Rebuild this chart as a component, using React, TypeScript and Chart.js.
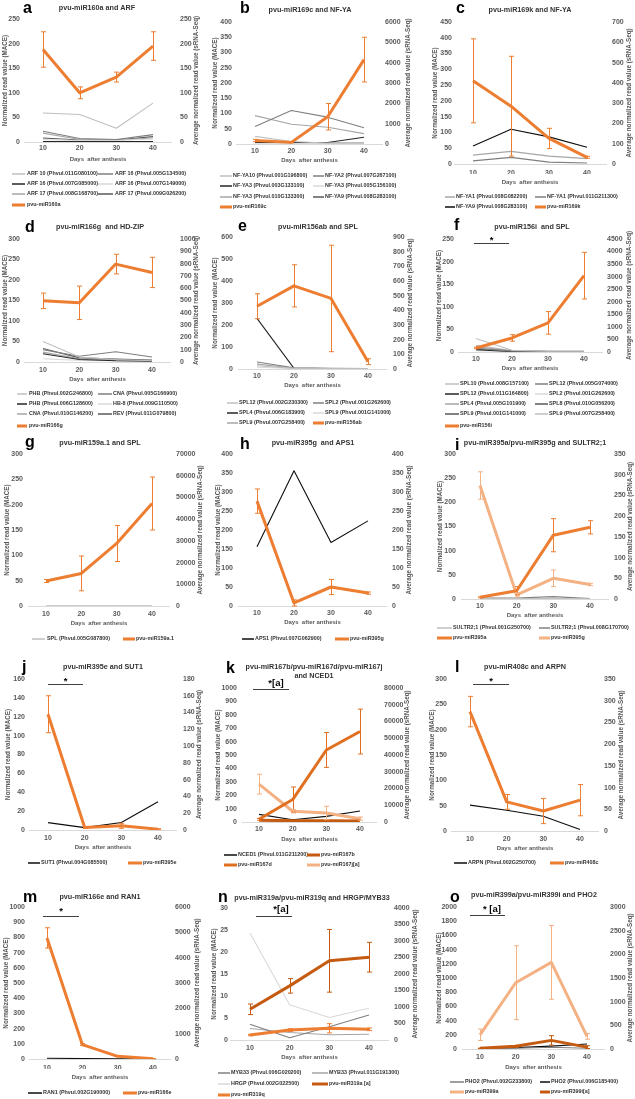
import React, { useEffect, useRef } from 'react';
import { Chart, registerables } from 'chart.js';

Chart.register(...registerables);

const FONT = '"Liberation Sans", Arial, Helvetica, sans-serif';
Chart.defaults.font.family = FONT;

// ---------------- data ----------------
const DAYS = ['10', '20', '30', '40'];

// a: pvu-miR160a and ARF
const a_axisL = [250, 50];
const a_axisR = [250, 50];
const a_ARF10_011G080100 = [59, 56, 28, 79];
const a_ARF16_005G134500 = [22, 7, 5, 15];
const a_ARF16_007G085000 = [1, 1, 1, 1];
const a_ARF16_007G149000 = [5, 3, 3, 6];
const a_ARF17_008G168700 = [18, 5, 4, 8];
const a_ARF17_009G026200 = [8, 4, 4, 11];
const a_miR160a = [188, 100, 132, 195];
const a_miR160a_err = [36, 12, 10, 29];

// b: pvu-miR169c and NF-YA
const b_axisL = [400, 50];
const b_axisR = [6000, 1000];
const b_NFYA10_001G196800 = [25, 8, 3, 3];
const b_NFYA2_007G267100 = [57, 110, 88, 53];
const b_NFYA3_003G133100 = [5, 5, 5, 22];
const b_NFYA3_005G156100 = [3, 2, 2, 2];
const b_NFYA3_010G133300 = [93, 65, 55, 34];
const b_NFYA9_008G283100 = [10, 4, 3, 3];
const b_miR169c = [170, 80, 1340, 4150];
const b_miR169c_err = [60, 20, 650, 1100];

// c: pvu-miR169k and NF-YA
const c_axisL = [450, 50];
const c_axisR = [700, 100];
const c_NFYA1_008G082200 = [28, 40, 25, 17];
const c_NFYA1_011G211300 = [10, 21, 6, 3];
const c_NFYA9_008G283100 = [57, 110, 86, 53];
const c_miR169k = [410, 285, 126, 33];
const c_miR169k_err = [207, 246, 50, 5];

// d: pvu-miR166g and HD-ZIP
const d_axisL = [300, 50];
const d_axisR = [1000, 100];
const d_PHB_002G246800 = [50, 12, 6, 3];
const d_CNA_005G166900 = [30, 14, 25, 12];
const d_PHB_006G128600 = [20, 6, 3, 2];
const d_HB8_009G110500 = [8, 4, 3, 2];
const d_CNA_010G146200 = [24, 8, 5, 4];
const d_REV_011G079800 = [33, 10, 7, 5];
const d_miR166g = [497, 481, 796, 728];
const d_miR166g_err = [63, 136, 80, 123];

// e: pvu-miR156ab and SPL
const e_axisL = [600, 100];
const e_axisR = [900, 100];
const e_SPL12_002G230300 = [15, 3, 2, 2];
const e_SPL2_001G262600 = [32, 6, 3, 2];
const e_SPL4_006G183900 = [230, 3, 2, 2];
const e_SPL9_001G141000 = [8, 2, 2, 2];
const e_SPL9_007G258400 = [22, 4, 2, 2];
const e_miR156ab = [428, 567, 481, 50];
const e_miR156ab_err = [85, 144, 363, 20];

// f: pvu-miR156i and SPL
const f_axisL = [250, 50];
const f_axisR = [4500, 500];
const f_SPL10_008G157100 = [30, 4, 2, 2];
const f_SPL12_005G074000 = [8, 2, 1, 1];
const f_SPL12_011G164800 = [5, 1, 1, 1];
const f_SPL2_001G262600 = [3, 1, 1, 1];
const f_SPL4_005G101900 = [12, 2, 1, 1];
const f_SPL8_010G056200 = [6, 2, 1, 1];
const f_SPL9_001G141000 = [7, 2, 1, 1];
const f_SPL9_007G258400 = [15, 3, 2, 2];
const f_miR156i = [160, 560, 1160, 3040];
const f_miR156i_err = [30, 130, 450, 930];

// g: pvu-miR159a.1 and SPL
const g_axisL = [300, 50];
const g_axisR = [70000, 10000];
const g_SPL_005G087800 = [0.5, 0.5, 0.5, 0.5];
const g_miR159a1 = [11500, 15000, 28800, 47200];
const g_miR159a1_err = [700, 8000, 8300, 12200];

// h: pvu-miR395g and APS1
const h_axisL = [400, 50];
const h_axisR = [400, 50];
const h_APS1_007G062900 = [156, 356, 167, 224];
const h_miR395g = [276, 8, 50, 34];
const h_miR395g_err = [32, 8, 20, 3];

// i: pvu-miR395a/pvu-miR395g and SULTR2;1
const i_axisL = [300, 50];
const i_axisR = [350, 50];
const i_SULTR21_001G250700 = [1, 1, 1, 0.5];
const i_SULTR21_008G170700 = [2, 2, 5, 1];
const i_miR395a = [4, 20, 154, 173];
const i_miR395a_err = [1, 10, 40, 16];
const i_miR395g = [274, 10, 50, 35];
const i_miR395g_err = [33, 5, 20, 3];

// j: pvu-miR395e and SUT1
const j_axisL = [160, 20];
const j_axisR = [180, 20];
const j_SUT1_004G085500 = [7.8, 2.5, 8, 30];
const j_miR395e = [138, 3, 5, 1];
const j_miR395e_err = [22, 1, 3, 0.5];

// k: pvu-miR167b/d/j and NCED1
const k_axisL = [1000, 100];
const k_axisR = [80000, 10000];
const k_NCED1_011G211200 = [57, 17, 42, 82];
const k_miR167b = [1000, 800, 700, 600];
const k_miR167d = [1600, 13400, 43000, 54000];
const k_miR167d_err = [500, 7500, 10400, 13400];
const k_miR167j = [22600, 6400, 5400, 2000];
const k_miR167j_err = [5900, 1000, 4000, 1000];

// l: pvu-miR408c and ARPN
const l_axisL = [300, 50];
const l_axisR = [350, 50];
const l_ARPN_002G250700 = [51, 41, 29, 3];
const l_miR408c = [275, 67, 46, 71];
const l_miR408c_err = [35, 17, 29, 36];

// m: pvu-miR166e and RAN1
const m_axisL = [1000, 100];
const m_axisR = [6000, 1000];
const m_RAN1_002G190000 = [5, 3, 2, 1];
const m_miR166e = [4780, 570, 105, 13];
const m_miR166e_err = [400, 40, 10, 2];

// n: pvu-miR319a/pvu-miR319q and HRGP/MYB33
const n_axisL = [30, 5];
const n_axisR = [4000, 500];
const n_MYB33_006G020200 = [3.6, 0.5, 3.0, 5.7];
const n_MYB33_011G191300 = [2.6, 1.7, 1.2, 1.3];
const n_HRGP_002G022500 = [24.3, 8, 5.1, 7.2];
const n_miR319a = [930, 1640, 2400, 2510];
const n_miR319a_err = [160, 220, 950, 450];
const n_miR319q = [150, 300, 354, 324];
const n_miR319q_err = [20, 40, 140, 40];

// o: pvu-miR399a/pvu-miR399i and PHO2
const o_axisL = [2000, 200];
const o_axisR = [3000, 500];
const o_PHO2_002G233800 = [2, 10, 25, 10];
const o_PHO2_006G185400 = [3, 20, 40, 70];
const o_miR399a = [300, 1400, 1830, 266];
const o_miR399a_err = [120, 780, 780, 60];
const o_miR399i = [14, 56, 182, 40];
const o_miR399i_err = [5, 20, 100, 30];

// ---------------- styles ----------------
const C = {
  or: '#ED7D31', ord: '#C55A11', orm: '#E0701F', orl: '#F4B183',
  k: '#0D0D0D', g1: '#262626', g2: '#595959', g3: '#7F7F7F', g4: '#A6A6A6', g5: '#BFBFBF', g6: '#D9D9D9',
};

type S = { label: string; data: number[]; color: string; axis: 'L' | 'R'; err?: number[] };
const gs = (label: string, data: number[], color: string): S => ({ label, data, color, axis: 'L' });
const ms = (label: string, data: number[], err: number[], color: string = C.or): S => ({ label, data, err, color, axis: 'R' });

const PANELS: any[] = [
  {
    id: 'a', letter: 'a', letterX: 23, letterY: 12.5, title: ['pvu-miR160a and ARF'], titleX: 97, titleY: [8],
    box: [0, 0, 210, 217], c10: 43, c40: 153, T: 19, B: 142, lTick: 20, rTick: 180, lTitle: 5, rTitle: 196, xTick: 148, xTitle: 159,
    axL: a_axisL, axR: a_axisR, legRows: [174, 184, 194, 205], legCols: [[12, 25, 27], [98, 113, 115]],
    series: [
      gs('ARF 10 (Phvul.011G080100)', a_ARF10_011G080100, C.g5),
      gs('ARF 16 (Phvul.005G134500)', a_ARF16_005G134500, C.g3),
      gs('ARF 16 (Phvul.007G085000)', a_ARF16_007G085000, C.g1),
      gs('ARF 16 (Phvul.007G149000)', a_ARF16_007G149000, C.g6),
      gs('ARF 17 (Phvul.008G168700)', a_ARF17_008G168700, C.g4),
      gs('ARF 17 (Phvul.009G026200)', a_ARF17_009G026200, C.g2),
      ms('pvu-miR160a', a_miR160a, a_miR160a_err),
    ],
  },
  {
    id: 'b', letter: 'b', letterX: 240, letterY: 13, title: ['pvu-miR169c and NF-YA'], titleX: 310, titleY: [10],
    box: [210, 0, 218, 217], c10: 255, c40: 364, T: 22, B: 144, lTick: 232, rTick: 385, lTitle: 215, rTitle: 408, xTick: 151, xTitle: 160,
    axL: b_axisL, axR: b_axisR, legRows: [176, 186, 197, 207], legCols: [[220, 232, 233], [313, 324, 325]],
    series: [
      gs('NF-YA10 (Phvul.001G196800)', b_NFYA10_001G196800, C.g5),
      gs('NF-YA2 (Phvul.007G267100)', b_NFYA2_007G267100, C.g3),
      gs('NF-YA3 (Phvul.003G133100)', b_NFYA3_003G133100, C.g1),
      gs('NF-YA3 (Phvul.005G156100)', b_NFYA3_005G156100, C.g6),
      gs('NF-YA3 (Phvul.010G133300)', b_NFYA3_010G133300, C.g4),
      gs('NF-YA9 (Phvul.008G283100)', b_NFYA9_008G283100, C.g2),
      ms('pvu-miR169c', b_miR169c, b_miR169c_err),
    ],
  },
  {
    id: 'c', letter: 'c', letterX: 456, letterY: 12.7, title: ['pvu-miR169k and NF-YA'], titleX: 530, titleY: [10],
    box: [428, 0, 207, 217], c10: 473, c40: 587, T: 22, B: 164, lTick: 452, rTick: 612, lTitle: 435, rTitle: 629, xTick: 173, xTitle: 182,
    axL: c_axisL, axR: c_axisR, legRows: [197, 207], legCols: [[445, 455, 456], [535, 546, 547]],
    series: [
      gs('NF-YA1 (Phvul.008G082200)', c_NFYA1_008G082200, C.g4),
      gs('NF-YA1 (Phvul.011G211300)', c_NFYA1_011G211300, C.g3),
      gs('NF-YA9 (Phvul.008G283100)', c_NFYA9_008G283100, C.k),
      ms('pvu-miR169k', c_miR169k, c_miR169k_err),
    ],
  },
  {
    id: 'd', letter: 'd', letterX: 25, letterY: 231.5, title: ['pvu-miR166g  and HD-ZIP'], titleX: 100, titleY: [227],
    box: [0, 217, 210, 217], c10: 43, c40: 152, T: 239, B: 362, lTick: 20, rTick: 180, lTitle: 5, rTitle: 196, xTick: 370, xTitle: 379,
    axL: d_axisL, axR: d_axisR, legRows: [394, 404, 414, 426], legCols: [[17, 27, 29], [98, 112, 113]],
    series: [
      gs('PHB (Phvul.002G246800)', d_PHB_002G246800, C.g5),
      gs('CNA (Phvul.005G166900)', d_CNA_005G166900, C.g3),
      gs('PHB (Phvul.006G128600)', d_PHB_006G128600, C.g1),
      gs('HB-8 (Phvul.009G110500)', d_HB8_009G110500, C.g6),
      gs('CNA (Phvul.010G146200)', d_CNA_010G146200, C.g4),
      gs('REV (Phvul.011G079800)', d_REV_011G079800, C.g2),
      ms('pvu-miR166g', d_miR166g, d_miR166g_err),
    ],
  },
  {
    id: 'e', letter: 'e', letterX: 238, letterY: 230.5, title: ['pvu-miR156ab and SPL'], titleX: 318, titleY: [227],
    box: [210, 217, 218, 217], c10: 257, c40: 368, T: 237, B: 369, lTick: 233, rTick: 393, lTitle: 215, rTitle: 410, xTick: 376, xTitle: 385,
    axL: e_axisL, axR: e_axisR, legRows: [403, 413, 423], legCols: [[227, 238, 239], [313, 324, 325]],
    series: [
      gs('SPL12 (Phvul.002G230300)', e_SPL12_002G230300, C.g5),
      gs('SPL2 (Phvul.001G262600)', e_SPL2_001G262600, C.g3),
      gs('SPL4 (Phvul.006G183900)', e_SPL4_006G183900, C.g1),
      gs('SPL9 (Phvul.001G141000)', e_SPL9_001G141000, C.g6),
      gs('SPL9 (Phvul.007G258400)', e_SPL9_007G258400, C.g4),
      ms('pvu-miR156ab', e_miR156ab, e_miR156ab_err),
    ],
  },
  {
    id: 'f', letter: 'f', letterX: 454, letterY: 230, title: ['pvu-miR156i  and SPL'], titleX: 532, titleY: [227],
    box: [428, 217, 207, 217], c10: 476, c40: 584, T: 239, B: 352, lTick: 454, rTick: 607, lTitle: 439, rTitle: 629, xTick: 359, xTitle: 368,
    sig: { text: '*', x1: 474, x2: 509, lineY: 243, baseY: 242.5, x: 491.5 },
    axL: f_axisL, axR: f_axisR, legRows: [384, 394, 404, 414, 426], legCols: [[445, 459, 460], [535, 548, 549]],
    series: [
      gs('SPL10 (Phvul.008G157100)', f_SPL10_008G157100, C.g5),
      gs('SPL12 (Phvul.005G074000)', f_SPL12_005G074000, C.g3),
      gs('SPL12 (Phvul.011G164800)', f_SPL12_011G164800, C.g1),
      gs('SPL2 (Phvul.001G262600)', f_SPL2_001G262600, C.g6),
      gs('SPL4 (Phvul.005G101900)', f_SPL4_005G101900, C.g4),
      gs('SPL8 (Phvul.010G056200)', f_SPL8_010G056200, C.g2),
      gs('SPL9 (Phvul.001G141000)', f_SPL9_001G141000, C.g2),
      gs('SPL9 (Phvul.007G258400)', f_SPL9_007G258400, C.g5),
      ms('pvu-miR156i', f_miR156i, f_miR156i_err),
    ],
  },
  {
    id: 'g', letter: 'g', letterX: 25, letterY: 447, title: ['pvu-miR159a.1 and SPL'], titleX: 100, titleY: [443],
    box: [0, 434, 210, 218], c10: 46, c40: 152, T: 454, B: 606, lTick: 23, rTick: 176, lTitle: 7, rTitle: 200, xTick: 614, xTitle: 623,
    axL: g_axisL, axR: g_axisR, legRows: [639], legCols: [[32, 45, 47], [123, 135, 136]],
    series: [
      gs('SPL (Phvul.005G087800)', g_SPL_005G087800, C.g5),
      ms('pvu-miR159a.1', g_miR159a1, g_miR159a1_err),
    ],
  },
  {
    id: 'h', letter: 'h', letterX: 240, letterY: 449, title: ['pvu-miR395g  and APS1'], titleX: 313, titleY: [443],
    box: [210, 434, 218, 218], c10: 257, c40: 368, T: 454, B: 606, lTick: 233, rTick: 392, lTitle: 218, rTitle: 409, xTick: 613, xTitle: 622,
    axL: h_axisL, axR: h_axisR, legRows: [639], legCols: [[242, 254, 255], [335, 349, 350]],
    series: [
      gs('APS1 (Phvul.007G062900)', h_APS1_007G062900, C.k),
      ms('pvu-miR395g', h_miR395g, h_miR395g_err),
    ],
  },
  {
    id: 'i', letter: 'i', letterX: 455, letterY: 450, title: ['pvu-miR395a/pvu-miR395g and SULTR2;1'], titleX: 535, titleY: [443],
    box: [428, 434, 207, 218], c10: 480, c40: 590, T: 454, B: 599, lTick: 456, rTick: 614, lTitle: 440, rTitle: 630, xTick: 606, xTitle: 615,
    axL: i_axisL, axR: i_axisR, legRows: [628, 638], legCols: [[437, 452, 453], [539, 550, 551]],
    series: [
      gs('SULTR2;1 (Phvul.001G250700)', i_SULTR21_001G250700, C.g5),
      gs('SULTR2;1 (Phvul.008G170700)', i_SULTR21_008G170700, C.g3),
      ms('pvu-miR395a', i_miR395a, i_miR395a_err, C.or),
      ms('pvu-miR395g', i_miR395g, i_miR395g_err, C.orl),
    ],
  },
  {
    id: 'j', letter: 'j', letterX: 22, letterY: 672, title: ['pvu-miR395e and SUT1'], titleX: 103, titleY: [667],
    box: [0, 652, 210, 223], c10: 48, c40: 158, T: 679, B: 830, lTick: 25, rTick: 183, lTitle: 8, rTitle: 199, xTick: 838, xTitle: 847,
    sig: { text: '*', x1: 48, x2: 83, lineY: 684, baseY: 683.5, x: 65.5 },
    axL: j_axisL, axR: j_axisR, legRows: [863], legCols: [[28, 40, 41], [128, 142, 143]],
    series: [
      gs('SUT1 (Phvul.004G085500)', j_SUT1_004G085500, C.k),
      ms('pvu-miR395e', j_miR395e, j_miR395e_err),
    ],
  },
  {
    id: 'k', letter: 'k', letterX: 226, letterY: 672.5, title: ['pvu-miR167b/pvu-miR167d/pvu-miR167j', 'and NCED1'], titleX: 314, titleY: [667, 676],
    box: [210, 652, 218, 223], c10: 259, c40: 360, T: 688, B: 822, lTick: 237, rTick: 384, lTitle: 218, rTitle: 407, xTick: 829, xTitle: 839,
    sig: { text: '*[a]', x1: 253, x2: 289, lineY: 689, baseY: 686, x: 276 },
    axL: k_axisL, axR: k_axisR, legRows: [855, 865], legCols: [[224, 237, 238], [307, 320, 321]],
    series: [
      gs('NCED1 (Phvul.011G211200)', k_NCED1_011G211200, C.k),
      ms('pvu-miR167b', k_miR167b, null as any, C.ord),
      ms('pvu-miR167d', k_miR167d, k_miR167d_err, C.orm),
      ms('pvu-miR167j[a]', k_miR167j, k_miR167j_err, C.orl),
    ],
  },
  {
    id: 'l', letter: 'l', letterX: 455, letterY: 671.5, title: ['pvu-miR408c and ARPN'], titleX: 525, titleY: [667],
    box: [428, 652, 207, 223], c10: 470, c40: 580, T: 679, B: 831, lTick: 447, rTick: 604, lTitle: 432, rTitle: 621, xTick: 839, xTitle: 848,
    sig: { text: '*', x1: 473, x2: 509, lineY: 684, baseY: 683.5, x: 491 },
    axL: l_axisL, axR: l_axisR, legRows: [863], legCols: [[454, 467, 468], [550, 564, 565]],
    series: [
      gs('ARPN (Phvul.002G250700)', l_ARPN_002G250700, C.k),
      ms('pvu-miR408c', l_miR408c, l_miR408c_err),
    ],
  },
  {
    id: 'm', letter: 'm', letterX: 23, letterY: 901.5, title: ['pvu-miR166e and RAN1'], titleX: 100, titleY: [897],
    box: [0, 875, 210, 224], c10: 47, c40: 153, T: 907, B: 1059, lTick: 25, rTick: 175, lTitle: 6, rTitle: 197, xTick: 1068, xTitle: 1077,
    sig: { text: '*', x1: 43, x2: 79, lineY: 916, baseY: 914, x: 61 },
    axL: m_axisL, axR: m_axisR, legRows: [1093], legCols: [[28, 42, 43], [123, 137, 138]],
    series: [
      gs('RAN1 (Phvul.002G190000)', m_RAN1_002G190000, C.k),
      ms('pvu-miR166e', m_miR166e, m_miR166e_err),
    ],
  },
  {
    id: 'n', letter: 'n', letterX: 218, letterY: 901.5, title: ['pvu-miR319a/pvu-miR319q and HRGP/MYB33'], titleX: 312, titleY: [898],
    box: [210, 875, 218, 224], c10: 250, c40: 369, T: 908, B: 1040, lTick: 228, rTick: 394, lTitle: 214, rTitle: 415, xTick: 1048, xTitle: 1057,
    sig: { text: '*[a]', x1: 256, x2: 292, lineY: 916, baseY: 912, x: 281 },
    axL: n_axisL, axR: n_axisR, legRows: [1073, 1084, 1095], legCols: [[218, 230, 231], [312, 328, 329]],
    series: [
      gs('MYB33 (Phvul.006G020200)', n_MYB33_006G020200, C.g3),
      gs('MYB33 (Phvul.011G191300)', n_MYB33_011G191300, C.g4),
      gs('HRGP (Phvul.002G022500)', n_HRGP_002G022500, C.g6),
      ms('pvu-miR319a [a]', n_miR319a, n_miR319a_err, C.ord),
      ms('pvu-miR319q', n_miR319q, n_miR319q_err, C.or),
    ],
  },
  {
    id: 'o', letter: 'o', letterX: 450, letterY: 901.5, title: ['pvu-miR399a/pvu-miR399i and PHO2'], titleX: 534, titleY: [895],
    box: [428, 875, 207, 224], c10: 480, c40: 587, T: 907, B: 1049, lTick: 457, rTick: 610, lTitle: 439, rTitle: 630, xTick: 1057, xTitle: 1067,
    sig: { text: '* [a]', x1: 470, x2: 505, lineY: 915, baseY: 912, x: 492 },
    axL: o_axisL, axR: o_axisR, legRows: [1082, 1092], legCols: [[450, 464, 465], [540, 550, 551]],
    series: [
      gs('PHO2 (Phvul.002G233800)', o_PHO2_002G233800, C.g3),
      gs('PHO2 (Phvul.006G185400)', o_PHO2_006G185400, C.k),
      ms('pvu-miR399a', o_miR399a, o_miR399a_err, C.orl),
      ms('pvu-miR399i[a]', o_miR399i, o_miR399i_err, C.ord),
    ],
  },
];

function makeDecor(p: any, L: number, R: number) {
  const [bx, by] = p.box;
  return {
    id: 'decor_' + p.id,
    afterDatasetsDraw(chart: any) {
      const ctx = chart.ctx;
      const xs = chart.scales.x;
      p.series.forEach((sr: S, i: number) => {
        if (!sr.err) return;
        const ys = chart.scales[sr.axis === 'L' ? 'yL' : 'yR'];
        ctx.save();
        ctx.strokeStyle = sr.color;
        ctx.lineWidth = 1;
        sr.err.forEach((e: number, j: number) => {
          const v = sr.data[j];
          const x = Math.round(xs.getPixelForValue(j)) + 0.5;
          const y1 = ys.getPixelForValue(v + e);
          const y2 = ys.getPixelForValue(Math.max(v - e, 0));
          ctx.beginPath();
          ctx.moveTo(x, y1); ctx.lineTo(x, y2);
          ctx.moveTo(x - 2.5, y1); ctx.lineTo(x + 2.5, y1);
          ctx.moveTo(x - 2.5, y2); ctx.lineTo(x + 2.5, y2);
          ctx.stroke();
        });
        ctx.restore();
      });
    },
    afterDraw(chart: any) {
      const ctx = chart.ctx;
      ctx.save();
      // panel letter
      ctx.fillStyle = '#000';
      ctx.font = `bold 16px ${FONT}`;
      ctx.textAlign = 'left';
      ctx.textBaseline = 'alphabetic';
      ctx.fillText(p.letter, p.letterX - bx, p.letterY - by);
      // title
      ctx.fillStyle = '#333';
      ctx.font = `bold 7.2px ${FONT}`;
      ctx.textAlign = 'center';
      ctx.textBaseline = 'middle';
      p.title.forEach((t: string, i: number) => ctx.fillText(t, p.titleX - bx, p.titleY[i] - by));
      // axis titles
      ctx.fillStyle = '#595959';
      ctx.font = `bold 6.3px ${FONT}`;
      const cy = (p.T + p.B) / 2 - by;
      const axT: [number, string][] = [
        [p.lTitle, 'Normalized read value (MACE)'],
        [p.rTitle, 'Average normalized read value (sRNA-Seq)'],
      ];
      axT.forEach(([x, t]) => {
        ctx.save();
        ctx.translate(x - bx, cy);
        ctx.rotate(-Math.PI / 2);
        ctx.fillText(t, 0, 0);
        ctx.restore();
      });
      ctx.font = `bold 6px ${FONT}`;
      ctx.fillText('Days  after anthesis', (L + R) / 2 - bx, p.xTitle - by);
      // significance
      if (p.sig) {
        const s = p.sig;
        ctx.strokeStyle = '#404040';
        ctx.lineWidth = 1;
        ctx.beginPath();
        ctx.moveTo(s.x1 - bx, Math.round(s.lineY - by) + 0.5);
        ctx.lineTo(s.x2 - bx, Math.round(s.lineY - by) + 0.5);
        ctx.stroke();
        ctx.fillStyle = '#000';
        ctx.font = `bold 9.5px ${FONT}`;
        ctx.textAlign = 'center';
        ctx.textBaseline = 'alphabetic';
        ctx.fillText(s.text, s.x - bx, s.baseY - by);
      }
      // legend
      ctx.font = `bold 5.4px ${FONT}`;
      ctx.textAlign = 'left';
      ctx.textBaseline = 'middle';
      p.series.forEach((sr: S, i: number) => {
        const row = Math.floor(i / 2);
        const col = p.legCols[i % 2];
        const y = p.legRows[row] - by;
        ctx.strokeStyle = sr.color;
        ctx.lineWidth = sr.axis === 'R' ? 3 : 1.5;
        ctx.beginPath();
        ctx.moveTo(col[0] - bx, y);
        ctx.lineTo(col[1] - bx, y);
        ctx.stroke();
        ctx.fillStyle = '#333';
        ctx.fillText(sr.label, col[2] - bx, y);
      });
      ctx.restore();
    },
  };
}

function Panel({ p }: { p: any }) {
  const ref = useRef<HTMLCanvasElement>(null);
  const [bx, by, bw, bh] = p.box;
  useEffect(() => {
    const s = (p.c40 - p.c10) / 3;
    const L = p.c10 - s / 2;
    const R = p.c40 + s / 2;
    const XH = 10;
    const tickFont = { family: FONT, size: 7, weight: 'bold' as const };
    const chart = new Chart(ref.current as HTMLCanvasElement, {
      type: 'line',
      data: {
        labels: DAYS,
        datasets: p.series.map((sr: S) => ({
          label: sr.label,
          data: sr.data,
          borderColor: sr.color,
          backgroundColor: sr.color,
          borderWidth: sr.axis === 'R' ? 3 : 1.1,
          pointRadius: 0,
          pointHoverRadius: 0,
          tension: 0,
          fill: false,
          borderJoinStyle: 'round',
          yAxisID: sr.axis === 'L' ? 'yL' : 'yR',
          order: sr.axis === 'R' ? 0 : 1,
        })),
      },
      options: {
        responsive: false,
        animation: false,
        devicePixelRatio: 1,
        events: [],
        layout: { padding: { left: 0, right: 0, top: p.T - by, bottom: bh - (p.B - by) - XH } },
        plugins: { legend: { display: false }, tooltip: { enabled: false }, title: { display: false } },
        scales: {
          x: {
            type: 'category',
            offset: true,
            grid: { display: false, drawTicks: false },
            border: { display: true, color: '#D9D9D9', width: 1 },
            ticks: { font: tickFont, color: '#595959', padding: p.xTick - p.B - 4.2, maxRotation: 0, autoSkip: false },
            afterFit: (sc: any) => { sc.height = XH; },
          },
          yL: {
            type: 'linear',
            position: 'left',
            min: 0,
            max: p.axL[0],
            grid: { display: false, drawTicks: false },
            border: { display: false },
            ticks: { stepSize: p.axL[1], font: tickFont, color: '#595959', padding: L - p.lTick, autoSkip: false, callback: (v: any) => String(v) },
            afterFit: (sc: any) => { sc.width = L - bx; },
          },
          yR: {
            type: 'linear',
            position: 'right',
            min: 0,
            max: p.axR[0],
            grid: { display: false, drawTicks: false },
            border: { display: false },
            ticks: { stepSize: p.axR[1], font: tickFont, color: '#595959', padding: p.rTick - R, autoSkip: false, callback: (v: any) => String(v) },
            afterFit: (sc: any) => { sc.width = bx + bw - R; },
          },
        },
      } as any,
      plugins: [makeDecor(p, L, R)],
    });
    return () => chart.destroy();
  }, [p]);
  return (
    <canvas
      ref={ref}
      width={bw}
      height={bh}
      style={{ position: 'absolute', left: bx, top: by, width: bw, height: bh }}
    />
  );
}

export default function App() {
  useEffect(() => {
    document.body.style.margin = '0';
  }, []);
  return (
    <div style={{ position: 'absolute', left: 0, top: 0, width: 635, height: 1099, background: '#fff', overflow: 'hidden' }}>
      {PANELS.map((p) => (
        <Panel key={p.id} p={p} />
      ))}
    </div>
  );
}
